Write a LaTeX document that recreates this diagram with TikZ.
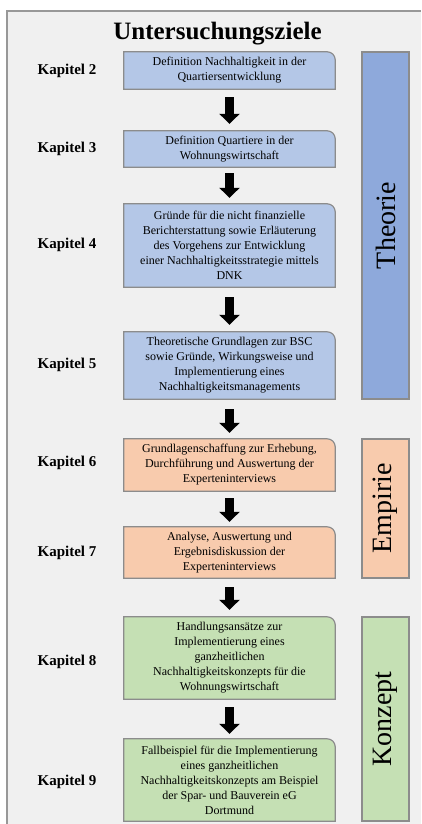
\documentclass[tikz,border=0pt]{standalone}
\usepackage{fontspec}
\setmainfont{Liberation Serif}
\usetikzlibrary{arrows.meta}
\pgfdeclarelayer{back}
\pgfdeclarelayer{bg}
\pgfsetlayers{back,bg,main}
\definecolor{frameFill}{HTML}{F0F0F0}
\definecolor{frameLine}{HTML}{989898}
\definecolor{boxLine}{HTML}{8C8C8C}
\definecolor{blueL}{HTML}{B4C7E7}
\definecolor{blueD}{HTML}{8EA9DB}
\definecolor{orangeL}{HTML}{F8CBAD}
\definecolor{greenL}{HTML}{C5E0B4}
\tikzset{
  boxtext/.style={align=center, inner sep=0pt, minimum width=211pt,
    font=\fontsize{12}{15}\selectfont},
  kap/.style={font=\fontsize{15}{18}\selectfont\bfseries},
  sidebar/.style={draw=boxLine, line width=1.2pt, rotate=90, inner sep=0pt,
    minimum height=47pt, font=\fontsize{28}{30}\selectfont},
  blockarrow/.style={line width=9pt, -{Triangle[width=20pt,length=10pt]}, black},
  boxshape/.style={draw=boxLine, line width=1.2pt}
}
\newcommand{\roundbox}[2]{%
  \begin{pgfonlayer}{bg}
  \path[boxshape, fill=#2] (#1.south west) -- (#1.north west)
    -- ([xshift=-8pt]#1.north east)
    .. controls ([xshift=-3.6pt]#1.north east) and ([yshift=-3.6pt]#1.north east)
    .. ([yshift=-8pt]#1.north east) -- (#1.south east) -- cycle;
  \end{pgfonlayer}}
\begin{document}
\begin{tikzpicture}[x=1pt,y=-1pt]
\useasboundingbox (0,0) rectangle (421,824);
\begin{pgfonlayer}{back}
\fill[white] (0,0) rectangle (421,824);
\fill[frameFill] (7,11) rectangle (421,824);
\draw[frameLine, line width=1.5pt] (7,824) -- (7,11) -- (421,11);
\end{pgfonlayer}

\node[font=\fontsize{25}{28}\selectfont\bfseries, anchor=base] (title) at (217.5,40) {Untersuchungsziele};

% chapter boxes
\node[boxtext, minimum height=37pt] (b1) at (229.5,70.5) {Definition Nachhaltigkeit in der\\Quartiersentwicklung};
\node[boxtext, minimum height=36pt] (b2) at (229.5,149) {Definition Quartiere in der\\Wohnungswirtschaft};
\node[boxtext, minimum height=83pt] (b3) at (229.5,245.5) {Gründe für die nicht finanzielle\\Berichterstattung sowie Erläuterung\\des Vorgehens zur Entwicklung\\einer Nachhaltigkeitsstrategie mittels\\DNK};
\node[boxtext, minimum height=67pt] (b4) at (229.5,365.5) {Theoretische Grundlagen zur BSC\\sowie Gründe, Wirkungsweise und\\Implementierung eines\\Nachhaltigkeitsmanagements};
\node[boxtext, minimum height=52pt] (b5) at (229.5,465) {Grundlagenschaffung zur Erhebung,\\Durchführung und Auswertung der\\Experteninterviews};
\node[boxtext, minimum height=51pt] (b6) at (229.5,552.5) {Analyse, Auswertung und\\Ergebnisdiskussion der\\Experteninterviews};
\node[boxtext, minimum height=82pt] (b7) at (229.5,658) {Handlungsansätze zur\\Implementierung eines\\ganzheitlichen\\Nachhaltigkeitskonzepts für die\\Wohnungswirtschaft};
\node[boxtext, minimum height=82pt] (b8) at (229.5,780) {Fallbeispiel für die Implementierung\\eines ganzheitlichen\\Nachhaltigkeitskonzepts am Beispiel\\der Spar- und Bauverein eG\\Dortmund};

\roundbox{b1}{blueL}
\roundbox{b2}{blueL}
\roundbox{b3}{blueL}
\roundbox{b4}{blueL}
\roundbox{b5}{orangeL}
\roundbox{b6}{orangeL}
\roundbox{b7}{greenL}
\roundbox{b8}{greenL}

% chapter labels
\node[kap] (k2) at (67,71) {Kapitel 2};
\node[kap] (k3) at (67,149) {Kapitel 3};
\node[kap] (k4) at (67,245) {Kapitel 4};
\node[kap] (k5) at (67,365) {Kapitel 5};
\node[kap] (k6) at (67,463) {Kapitel 6};
\node[kap] (k7) at (67,553) {Kapitel 7};
\node[kap] (k8) at (67,662) {Kapitel 8};
\node[kap] (k9) at (67,782) {Kapitel 9};

% arrows
\draw[blockarrow] ([yshift=-8pt]b1.south) -- ([yshift=7pt]b2.north);
\draw[blockarrow] ([yshift=-6pt]b2.south) -- ([yshift=6pt]b3.north);
\draw[blockarrow] ([yshift=-10pt]b3.south) -- ([yshift=7pt]b4.north);
\draw[blockarrow] ([yshift=-10pt]b4.south) -- ([yshift=6pt]b5.north);
\draw[blockarrow] ([yshift=-7pt]b5.south) -- ([yshift=5pt]b6.north);
\draw[blockarrow] ([yshift=-9pt]b6.south) -- ([yshift=7pt]b7.north);
\draw[blockarrow] ([yshift=-8pt]b7.south) -- ([yshift=5pt]b8.north);

% side bars
\node[sidebar, fill=blueD, minimum width=347pt] (theorie) at (385.5,225.5) {Theorie};
\node[sidebar, fill=orangeL, minimum width=139pt] (empirie) at (385.5,508.5) {Empirie};
\node[sidebar, fill=greenL, minimum width=204pt] (konzept) at (385.5,719) {Konzept};
\end{tikzpicture}
\end{document}
